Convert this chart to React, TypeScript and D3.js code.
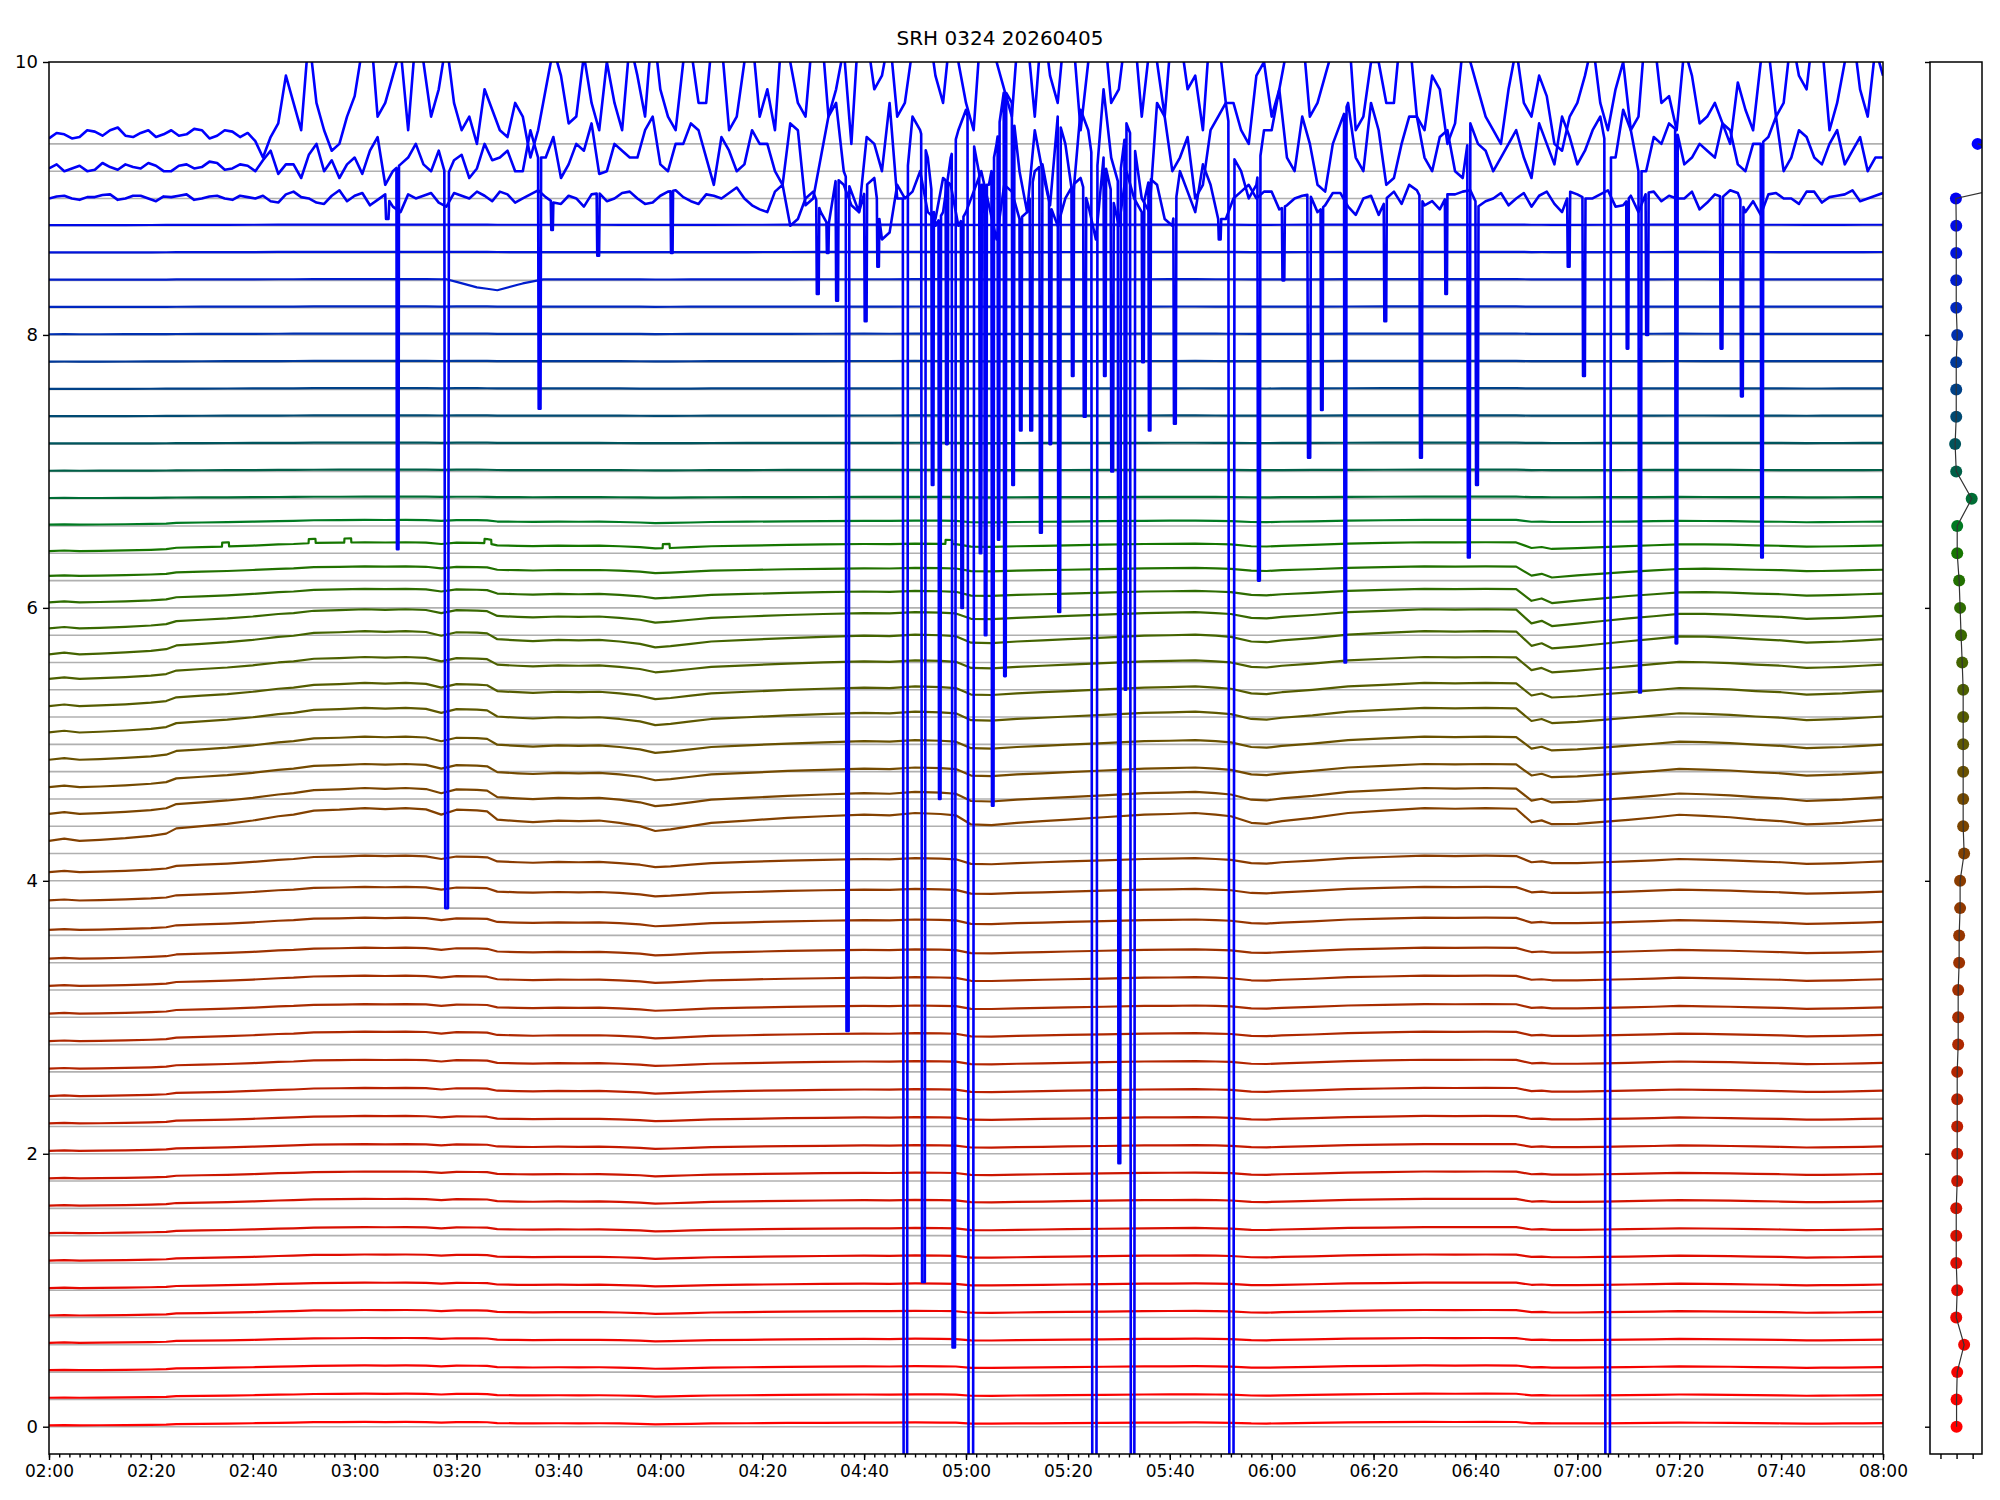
import * as d3 from "d3";
import { useEffect, useRef } from "react";

const WIDTH = 2000;
const HEIGHT = 1500;
const TITLE = "SRH 0324 20260405";

// channel offsets (one trace per channel)
const baselines = [
  0, 0.2, 0.4, 0.6, 0.8, 1.0, 1.2, 1.4, 1.6, 1.8, 2.0, 2.2, 2.4, 2.6, 2.8, 3.0,
  3.2, 3.4, 3.6, 3.8, 4.0, 4.2, 4.4, 4.6, 4.8, 5.0, 5.2, 5.4, 5.6, 5.8, 6.0, 6.2,
  6.4, 6.6, 6.8, 7.0, 7.2, 7.4, 7.6, 7.8, 8.0, 8.2, 8.4, 8.6, 8.8, 9.0, 9.2, 9.4,
];

// level of each smooth channel at 02:00, above its offset
const levels = [
  0.01, 0.012, 0.014, 0.015, 0.015, 0.016, 0.017, 0.018, 0.02, 0.02, 0.021,
  0.022, 0.023, 0.024, 0.025, 0.027, 0.03, 0.03, 0.04, 0.056, 0.064, 0.093,
  0.09, 0.086, 0.087, 0.087, 0.08, 0.08, 0.06, 0.05, 0.04, 0.034, 0.016, 0.01,
  0.005, 0.005, 0.005, 0.005, 0.005, 0.005, 0.005, 0.005, 0.005, 0.005, 0.005,
  0, 0, 0,
];

// how strongly each channel follows the common slow drift
const amps = [
  0.025, 0.03, 0.035, 0.035, 0.04, 0.04, 0.045, 0.045, 0.05, 0.05, 0.05, 0.055,
  0.06, 0.065, 0.07, 0.07, 0.075, 0.08, 0.09, 0.1, 0.12, 0.24, 0.19, 0.17, 0.17,
  0.18, 0.17, 0.16, 0.17, 0.14, 0.1, 0.07, 0.065, 0.035, 0.01, 0.008, 0.006,
  0.006, 0.005, 0.005, 0.005, 0.004, 0.004, 0.004, 0.004, 0, 0, 0,
];

// size of the 06:50 drop per channel
const dropAmps = [
  0, 0, 0, 0, 0, 0, 0, 0, 0, 0, 0, 0, 0, 0, 0, 0, 0, 0, 0, 0, 0, 0.01, 0.02,
  0.02, 0.025, 0.03, 0.03, 0.04, 0.05, 0.06, 0.06, 0.05, 0.02, 0, 0, 0, 0, 0, 0,
  0, 0, 0, 0, 0, 0, 0, 0, 0,
];

// common slow drift (minutes after 02:00)
const driftT = [
  0, 3, 6, 10, 15, 20, 23, 25, 30, 35, 40, 45, 48, 52, 57, 62, 66, 70, 74, 77,
  80, 84, 86, 88, 92, 95, 100, 104, 108, 112, 116, 119, 122, 126, 130, 137, 145,
  152, 160, 165, 170, 175, 178, 181, 185, 190, 195, 200, 207, 215, 220, 225, 229,
  232, 236, 239, 242, 248, 255, 262, 270, 276, 282, 288, 291, 293, 295, 300, 305,
  310, 315, 320, 325, 330, 335, 340, 345, 348, 352, 356, 360,
];
const driftV = [
  0, 0.07, 0, 0.03, 0.08, 0.15, 0.22, 0.38, 0.45, 0.52, 0.62, 0.75, 0.8, 0.92,
  0.95, 1.0, 0.97, 1.0, 0.96, 0.8, 0.95, 0.93, 0.9, 0.65, 0.6, 0.57, 0.62, 0.6,
  0.62, 0.55, 0.45, 0.3, 0.35, 0.45, 0.55, 0.62, 0.7, 0.75, 0.8, 0.78, 0.85,
  0.82, 0.78, 0.5, 0.48, 0.55, 0.6, 0.65, 0.72, 0.8, 0.82, 0.85, 0.8, 0.75,
  0.55, 0.52, 0.6, 0.7, 0.85, 0.92, 1.0, 0.98, 1.0, 0.98, 0.6, 0.65, 0.55, 0.55,
  0.6, 0.65, 0.72, 0.8, 0.76, 0.72, 0.65, 0.6, 0.5, 0.52, 0.55, 0.6, 0.65,
];
const dropV = [
  0, 0, 0, 0, 0, 0, 0, 0, 0, 0, 0, 0, 0, 0, 0, 0, 0, 0, 0, 0, 0, 0, 0, 0, 0, 0,
  0, 0, 0, 0, 0, 0, 0, 0, 0, 0, 0, 0, 0, 0, 0, 0, 0, 0, 0, 0, 0, 0, 0, 0, 0, 0,
  0, 0, 0, 0, 0, 0, 0, 0, 0, 0, 0, 0, -0.8, -0.6, -1.0, -0.7, -0.5, -0.3, -0.2,
  -0.1, 0, 0, 0, 0, 0, 0, 0, 0, 0,
];

// small square pulses on the 6.4 channel, and the dip on the 8.4 channel
const pulses64 = [34, 51, 58, 85.5, 120.5, 176];
const dip84T = [78, 84, 88, 93, 97];
const dip84V = [0, -0.06, -0.08, -0.03, 0];

// noisy top channels relative to offset: on the whole 3-minute marks ...
const ch90 = [
  0.0, 0.02, -0.01, 0.01, 0.03, 0.0, 0.02, -0.02, 0.01, 0.03, 0.0, 0.02, -0.01,
  0.01, 0.02, -0.03, 0.05, 0.0, -0.04, 0.06, 0.02, -0.05, 0.03, -0.1, 0.0, 0.04,
  -0.06, 0.02, 0.05, -0.02, 0.03, 0.0, 0.06, -0.03, 0.02, -0.06, 0.04, 0.0, 0.05,
  -0.04, 0.02, 0.06, -0.02, 0.03, 0.0, 0.08, -0.05, -0.1, 0.1, -0.15, 0.05, -0.2,
  0.1, -0.1, 0.15, -0.25, 0.0, 0.2, -0.15, 0.1, -0.1, 0.2, -0.3, 0.05, -0.1,
  0.25, -0.2, 0.1, -0.05, 0.3, -0.2, 0.0, 0.15, -0.15, 0.2, -0.1, 0.1, -0.15,
  0.05, 0.0, 0.05, -0.05, 0.02, -0.1, 0.04, -0.06, 0.0, -0.12, 0.05, 0.1, -0.05,
  -0.08, 0.03, 0.06, -0.02, 0.04, 0.0, -0.06, 0.05, -0.1, 0.03, 0.0, 0.06, -0.05,
  -0.1, 0.05, 0.02, 0.0, -0.08, 0.03, 0.06, -0.1, -0.12, 0.04, 0.0, 0.05, -0.03,
  0.02, 0.06, 0.0, 0.04,
];
const ch92 = [
  0.02, 0.0, 0.04, 0.01, 0.03, 0.05, 0.02, 0.04, 0.0, 0.05, 0.03, 0.06, 0.02,
  0.04, 0.08, -0.02, 0.05, 0.12, 0.0, -0.05, 0.1, 0.15, -0.1, 0.05, 0.2, 0.0,
  -0.05, 0.12, 0.02, 0.08, 0.15, 0.0, 0.1, 0.25, 0.05, 0.15, -0.02, 0.2, 0.1, 0.3,
  0.05, 0.2, 0.35, 0.1, 0.25, 0.0, 0.3, 0.2, -0.1, 0.3, -0.2, 0.4, 0.0, -0.3, 0.2,
  0.5, -0.2, 0.3, -0.4, 0.1, 0.45, -0.1, 0.2, 0.5, -0.3, 0.0, 0.4, -0.2, 0.3, 0.6,
  -0.1, 0.2, -0.3, 0.4, 0.1, -0.2, 0.3, 0.5, 0.0, -0.1, 0.3, 0.1, 0.4, -0.1, 0.2,
  0.5, 0.0, 0.3, -0.05, 0.4, 0.1, 0.25, 0.0, 0.35, 0.15, 0.1, 0.3, -0.05, 0.2,
  0.4, 0.05, 0.3, 0.1, 0.45, 0.0, 0.25, 0.35, 0.05, 0.2, 0.1, 0.3, 0.0, 0.2, 0.4,
  0.1, 0.25, 0.05, 0.3, 0.15, 0.0, 0.1,
];
const ch94 = [
  0.04, 0.07, 0.05, 0.09, 0.1, 0.06, 0.08, 0.05, 0.1, 0.07, 0.1, 0.06, 0.09, 0.08,
  -0.1, 0.15, 0.3, 0.8, 0.1, 0.0, 0.35, 0.9, 0.3, 0.7, 0.8, 0.2, 0.75, 0.1, 0.0,
  0.25, 0.05, 0.2, 0.1, 0.7, 0.15, 0.65, 0.1, 0.3, 0.75, 0.2, 0.4, 0.1, 0.7, 0.3,
  0.75, 0.2, 0.8, 0.4, 0.9, 0.3, 0.85, 0.2, 0.7, 0.9, 0.4, 0.8, 0.3, 0.9, 0.5,
  0.85, 0.3, 0.9, 0.6, 0.2, 0.8, 0.95, 0.3, 0.8, 0.6, 0.9, 0.4, 0.85, 0.7, 0.2,
  0.8, 0.5, 0.9, 0.3, 0.1, 0.5, 0.2, 0.7, 0.85, 0.3, 0.7, 0.9, 0.2, 0.6, 0.3, 0.8,
  0.1, 0.4, 0.15, 0.6, 0.2, 0.0, 0.7, 0.2, 0.35, -0.05, 0.3, 0.75, 0.1, 0.6, 0.2,
  0.8, 0.35, 0.7, 0.15, 0.3, 0.0, 0.25, 0.6, 0.2, 0.8, 0.4, 0.75, 0.3, 0.85, 0.2,
  0.5,
];
// ... and half-way between them (1.5, 4.5, ... minutes)
const ch90Mid = [
  0.015, 0.0, 0.01, 0.025, -0.01, 0.02, 0.0, 0.015, 0.02, -0.01, 0.015, 0.0,
  0.02, 0.0, -0.02, 0.03, 0.01, -0.03, 0.02, -0.02, 0.04, -0.01, -0.06, 0.03,
  0.02, -0.03, 0.04, 0.0, 0.02, 0.05, -0.03, 0.03, 0.01, -0.04, 0.0, 0.03, -0.02,
  0.04, 0.0, -0.03, 0.05, 0.01, -0.04, 0.02, 0.04, 0.0, -0.08, 0.05, -0.2, 0.0,
  -0.1, 0.15, -0.05, 0.1, -0.3, 0.1, 0.05, -0.1, 0.15, -0.2, 0.05, -0.05, 0.1,
  -0.15, 0.2, -0.05, 0.0, 0.15, -0.3, 0.05, 0.2, -0.1, 0.1, -0.2, 0.05, 0.25,
  -0.15, 0.0, 0.1, 0.05, -0.08, 0.0, 0.03, -0.05, 0.04, -0.12, 0.02, 0.0, -0.04,
  0.06, -0.02, 0.03, 0.05, -0.06, 0.0, -0.05, 0.04, 0.02, -0.04, 0.05, 0.0, 0.03,
  -0.06, 0.02, 0.04, -0.02, 0.0, 0.05, -0.03, 0.01, 0.04, -0.02, 0.03, 0.0,
  -0.04, 0.05, 0.01, 0.03, -0.02, 0.02,
];
const ch92Mid = [
  0.05, 0.02, 0.0, 0.06, 0.01, 0.03, 0.06, 0.0, 0.04, 0.02, 0.07, 0.01, 0.05,
  0.0, 0.15, 0.05, -0.05, 0.2, 0.08, 0.05, -0.02, 0.25, 0.0, 0.1, 0.05, 0.15,
  0.08, -0.05, 0.2, 0.1, 0.0, 0.3, 0.1, -0.05, 0.2, 0.35, 0.0, 0.15, 0.1, 0.4,
  0.0, 0.2, 0.3, -0.1, 0.15, 0.05, 0.2, 0.0, 0.35, -0.25, 0.1, 0.5, -0.15, 0.25,
  0.0, -0.2, 0.4, 0.1, -0.3, 0.3, 0.2, -0.1, 0.6, 0.0, 0.3, -0.25, 0.2, 0.45,
  -0.1, 0.1, 0.35, -0.2, 0.5, 0.0, 0.25, -0.1, 0.4, 0.1, -0.2, 0.3, 0.6, 0.0,
  0.2, -0.15, 0.35, 0.1, 0.5, -0.1, 0.2, 0.4, 0.0, 0.3, -0.05, 0.2, 0.0, 0.2,
  0.1, 0.35, 0.05, 0.25, 0.15, 0.4, 0.1, 0.3, 0.0, 0.2, 0.3, 0.1, 0.15, 0.35,
  0.05, 0.2, 0.25, 0.0, 0.3, 0.1, 0.2, 0.05, 0.25, 0.1,
];
const ch94Mid = [
  0.08, 0.04, 0.1, 0.06, 0.12, 0.05, 0.1, 0.07, 0.06, 0.11, 0.04, 0.1, 0.05,
  0.02, 0.05, 0.5, 0.1, 0.3, -0.05, 0.2, 0.7, 0.2, 0.5, 0.1, 0.6, 0.4, 0.3, 0.2,
  0.4, 0.1, 0.3, -0.1, 0.4, 0.5, 0.2, 0.3, 0.6, 0.1, 0.5, 0.9, 0.2, 0.6, 0.3,
  0.9, 0.1, 0.6, 0.2, 0.1, 0.6, 0.2, 0.9, 0.4, 0.0, 0.8, 0.5, 0.2, 0.7, 0.9,
  0.3, 0.6, 0.1, 0.8, 0.4, 0.95, 0.2, 0.5, 0.9, 0.1, 0.7, 0.3, 0.85, 0.2, 0.6,
  0.9, 0.4, 0.1, 0.8, 0.3, 0.0, 0.6, 0.4, 0.9, 0.2, 0.5, 0.8, 0.1, 0.6, 0.3,
  0.9, 0.2, 0.5, 0.0, 0.7, 0.4, 0.1, 0.4, 0.3, 0.5, 0.0, 0.2, 0.5, 0.3, 0.4,
  0.1, 0.9, 0.3, 0.1, 0.5, 0.2, 0.15, 0.45, 0.1, 0.7, 0.3, 0.5, 0.9, 0.1, 0.6,
  0.4, 0.7,
];
const fineTimes = d3.range(0, 360.01, 1.5);

// dropouts on the 9.2 channel: start minute, width, lowest value
const deepSpikes = [
  { t: 68.2, w: 0.5, v: 6.43 },
  { t: 77.6, w: 0.9, v: 3.8 },
  { t: 96, w: 0.6, v: 7.46 },
  { t: 156.4, w: 0.7, v: 2.9 },
  { t: 167.6, w: 1.0, v: -3 },
  { t: 171.2, w: 0.9, v: 1.06 },
  { t: 173.2, w: 0.5, v: 6.9 },
  { t: 174.6, w: 0.5, v: 4.6 },
  { t: 177.2, w: 0.8, v: 0.58 },
  { t: 180.3, w: 1.3, v: -3 },
  { t: 182.6, w: 0.5, v: 6.4 },
  { t: 183.6, w: 0.5, v: 5.8 },
  { t: 185, w: 0.5, v: 4.55 },
  { t: 186.2, w: 0.4, v: 6.5 },
  { t: 187.4, w: 0.5, v: 5.5 },
  { t: 189, w: 0.5, v: 6.9 },
  { t: 198, w: 0.6, v: 5.97 },
  { t: 204.6, w: 1.2, v: -3 },
  { t: 209.8, w: 0.6, v: 1.93 },
  { t: 211.1, w: 0.4, v: 5.4 },
  { t: 212.2, w: 1.0, v: -3 },
  { t: 231.5, w: 1.2, v: -3 },
  { t: 237.2, w: 0.6, v: 6.2 },
  { t: 254.2, w: 0.5, v: 5.6 },
  { t: 278.4, w: 0.6, v: 6.37 },
  { t: 305.3, w: 1.3, v: -3 },
  { t: 312, w: 0.6, v: 5.38 },
  { t: 319.2, w: 0.5, v: 5.74 },
  { t: 336, w: 0.5, v: 6.37 },
];

// shallower dips on the 9.0 channel
const midDips = [
  { t: 66, w: 0.8, v: 8.85 },
  { t: 98.5, w: 0.5, v: 8.77 },
  { t: 107.5, w: 0.6, v: 8.58 },
  { t: 122, w: 0.5, v: 8.6 },
  { t: 150.6, w: 0.6, v: 8.3 },
  { t: 152.6, w: 0.5, v: 8.6 },
  { t: 154.4, w: 0.6, v: 8.25 },
  { t: 160, w: 0.6, v: 8.1 },
  { t: 162.5, w: 0.5, v: 8.5 },
  { t: 176, w: 0.5, v: 7.2 },
  { t: 179, w: 0.5, v: 6.0 },
  { t: 190.5, w: 0.5, v: 7.3 },
  { t: 192.5, w: 0.6, v: 7.3 },
  { t: 194.4, w: 0.6, v: 6.55 },
  { t: 196.3, w: 0.5, v: 7.2 },
  { t: 200.7, w: 0.5, v: 7.7 },
  { t: 203, w: 0.6, v: 7.4 },
  { t: 207, w: 0.5, v: 7.7 },
  { t: 208.4, w: 0.6, v: 7.0 },
  { t: 214.5, w: 0.5, v: 7.8 },
  { t: 215.8, w: 0.5, v: 7.3 },
  { t: 220.7, w: 0.6, v: 7.35 },
  { t: 229.5, w: 0.6, v: 8.7 },
  { t: 242, w: 0.6, v: 8.4 },
  { t: 247, w: 0.7, v: 7.1 },
  { t: 249.6, w: 0.5, v: 7.45 },
  { t: 262, w: 0.6, v: 8.1 },
  { t: 269, w: 0.6, v: 7.1 },
  { t: 274, w: 0.5, v: 8.3 },
  { t: 280, w: 0.6, v: 6.9 },
  { t: 298, w: 0.6, v: 8.5 },
  { t: 301, w: 0.6, v: 7.7 },
  { t: 309.6, w: 0.5, v: 7.9 },
  { t: 313.4, w: 0.6, v: 8.0 },
  { t: 328, w: 0.6, v: 7.9 },
  { t: 332, w: 0.6, v: 7.55 },
];

// per-channel value shown in the side panel
const sideValues = [
  0.0, 0.0, 0.04, 0.47, -0.02, 0.04, -0.02, -0.02, -0.02, 0.04, 0.04, 0.04,
  0.04, 0.04, 0.1, 0.1, 0.1, 0.16, 0.16, 0.22, 0.22, 0.47, 0.41, 0.41, 0.41,
  0.41, 0.41, 0.41, 0.35, 0.28, 0.22, 0.16, 0.04, 0.04, 0.94, -0.02, -0.09,
  -0.02, -0.02, -0.02, 0.04, -0.02, -0.02, -0.02, -0.02, -0.04, 7.5, 1.31,
];

const xTicks = d3.range(0, 361, 20);
const xMinorTicks = d3.range(0, 361, 2);
const yTicks = [0, 2, 4, 6, 8, 10];

const colorStopV = [0, 1, 2, 3, 4, 4.6, 5, 5.6, 6, 6.4, 6.6, 7, 7.4, 8, 8.6, 9, 9.4];
const colorStopC = [
  "#ff0000", "#e60800", "#c41a00", "#a82c00", "#8a3c00", "#744a00", "#5e5800",
  "#446400", "#2e6c00", "#167600", "#007a22", "#006048", "#004a72", "#0030b0",
  "#0014dc", "#0000f0", "#0000ff",
];

function interp(ts: number[], vs: number[], t: number) {
  const i = d3.bisectRight(ts, t);
  if (i <= 0) return vs[0];
  if (i >= ts.length) return vs[vs.length - 1];
  const a = ts[i - 1];
  const b = ts[i];
  return vs[i - 1] + ((vs[i] - vs[i - 1]) * (t - a)) / (b - a);
}

function hhmm(m: number) {
  const h = 2 + Math.floor(m / 60);
  const mm = m % 60;
  return `${String(h).padStart(2, "0")}:${String(mm).padStart(2, "0")}`;
}

// whole-mark and half-mark samples merged into one series
function fineSeries(whole: number[], mid: number[]) {
  const out: number[] = [];
  whole.forEach((v, i) => {
    out.push(v);
    if (i < mid.length) out.push(mid[i]);
  });
  return out;
}

function tracePoints(k: number): [number, number][] {
  const base = baselines[k];
  if (k >= 45) {
    const offs =
      k === 45
        ? fineSeries(ch90, ch90Mid)
        : k === 46
          ? fineSeries(ch92, ch92Mid)
          : fineSeries(ch94, ch94Mid);
    const ts = fineTimes.slice(0, offs.length);
    const spikes = k === 45 ? midDips : k === 46 ? deepSpikes : [];
    const pts: [number, number][] = ts
      .map((t, i) => [t, base + offs[i]] as [number, number])
      .filter(([t]) => !spikes.some((s) => t > s.t && t < s.t + s.w));
    spikes.forEach((s) => {
      const b0 = base + interp(ts, offs, s.t);
      const b1 = base + interp(ts, offs, s.t + s.w);
      pts.push(
        [s.t, b0],
        [s.t + s.w * 0.2, s.v],
        [s.t + s.w * 0.8, s.v],
        [s.t + s.w, b1],
      );
    });
    return pts.sort((a, b) => a[0] - b[0]);
  }
  const extra: number[] = [];
  if (k === 32) pulses64.forEach((p) => extra.push(p - 0.05, p, p + 1.3, p + 1.35));
  if (k === 42) extra.push(...dip84T);
  const ts = Array.from(new Set([...driftT, ...extra])).sort((a, b) => a - b);
  return ts.map((t) => {
    let v =
      base +
      levels[k] +
      amps[k] * interp(driftT, driftV, t) +
      dropAmps[k] * interp(driftT, dropV, t);
    if (k === 32 && pulses64.some((p) => t >= p && t <= p + 1.3)) v += 0.03;
    if (k === 42) v += interp(dip84T, dip84V, t);
    return [t, v] as [number, number];
  });
}

export default function App() {
  const svgRef = useRef<SVGSVGElement>(null);

  useEffect(() => {
    if (!svgRef.current) return;
    const svg = d3.select(svgRef.current);
    svg.selectAll("*").remove();

    const plot = { left: 49, right: 1883, top: 62, bottom: 1454 };
    const side = { left: 1930, right: 1982 };

    const x = d3.scaleLinear().domain([0, 360]).range([plot.left, plot.right]);
    const y = d3.scaleLinear().domain([-0.2, 10]).range([plot.bottom, plot.top]);
    const sx = d3.scaleLinear().domain([-1.65, 1.58]).range([side.left, side.right]);
    const color = d3
      .scaleLinear<string>()
      .domain(colorStopV)
      .range(colorStopC)
      .interpolate(d3.interpolateRgb);

    const defs = svg.append("defs");
    defs
      .append("clipPath")
      .attr("id", "main-clip")
      .append("rect")
      .attr("x", plot.left)
      .attr("y", plot.top)
      .attr("width", plot.right - plot.left)
      .attr("height", plot.bottom - plot.top);
    defs
      .append("clipPath")
      .attr("id", "side-clip")
      .append("rect")
      .attr("x", side.left)
      .attr("y", plot.top)
      .attr("width", side.right - side.left)
      .attr("height", plot.bottom - plot.top);

    // title
    svg
      .append("text")
      .attr("x", 1000)
      .attr("y", 45)
      .attr("text-anchor", "middle")
      .style("font-size", "20px")
      .style("fill", "#000")
      .text(TITLE);

    const main = svg.append("g").attr("clip-path", "url(#main-clip)");

    // grid lines at each channel offset
    main
      .selectAll(".grid")
      .data(baselines)
      .enter()
      .append("line")
      .attr("x1", plot.left)
      .attr("x2", plot.right)
      .attr("y1", (d) => y(d))
      .attr("y2", (d) => y(d))
      .style("stroke", "#b0b0b0")
      .style("stroke-width", 1.6);

    const line = d3
      .line<[number, number]>()
      .x((d) => x(d[0]))
      .y((d) => y(d[1]));

    baselines.forEach((b, k) => {
      main
        .append("path")
        .attr("d", line(tracePoints(k)) ?? "")
        .style("fill", "none")
        .style("stroke", color(b))
        .style("stroke-width", k >= 45 ? 2.6 : 2.2)
        .style("stroke-linejoin", "round");
    });

    // frame
    svg
      .append("rect")
      .attr("x", plot.left)
      .attr("y", plot.top)
      .attr("width", plot.right - plot.left)
      .attr("height", plot.bottom - plot.top)
      .style("fill", "none")
      .style("stroke", "#000")
      .style("stroke-width", 1.5);

    // axes
    const styleAxis = (g: d3.Selection<SVGGElement, unknown, null, undefined>) => {
      g.select(".domain").remove();
      g.selectAll(".tick line").style("stroke", "#000").style("stroke-width", 1.4);
      g.selectAll("text")
        .style("font-size", "17px")
        .style("font-family", "DejaVu Sans")
        .style("fill", "#000");
    };

    svg
      .append("g")
      .attr("transform", `translate(0,${plot.bottom})`)
      .call(
        d3
          .axisBottom(x)
          .tickValues(xMinorTicks)
          .tickSize(3.5)
          .tickFormat(() => ""),
      )
      .call(styleAxis);

    svg
      .append("g")
      .attr("transform", `translate(0,${plot.bottom})`)
      .call(
        d3
          .axisBottom(x)
          .tickValues(xTicks)
          .tickSize(6)
          .tickPadding(5)
          .tickFormat((d) => hhmm(+d)),
      )
      .call(styleAxis);

    svg
      .append("g")
      .attr("transform", `translate(${plot.left},0)`)
      .call(d3.axisLeft(y).tickValues(yTicks).tickSize(6).tickPadding(5))
      .call(styleAxis)
      .selectAll("text")
      .style("font-size", "18px");

    // side panel
    const sideG = svg.append("g").attr("clip-path", "url(#side-clip)");
    const sidePts = baselines.map((b, k) => [sideValues[k], b] as [number, number]);

    sideG
      .selectAll(".dot")
      .data(sidePts)
      .enter()
      .append("circle")
      .attr("cx", (d) => sx(d[0]))
      .attr("cy", (d) => y(d[1]))
      .attr("r", 6)
      .style("fill", (d) => color(d[1]));

    sideG
      .append("path")
      .attr(
        "d",
        d3
          .line<[number, number]>()
          .x((d) => sx(d[0]))
          .y((d) => y(d[1]))(sidePts) ?? "",
      )
      .style("fill", "none")
      .style("stroke", "#333")
      .style("stroke-width", 1.2);

    svg
      .append("rect")
      .attr("x", side.left)
      .attr("y", plot.top)
      .attr("width", side.right - side.left)
      .attr("height", plot.bottom - plot.top)
      .style("fill", "none")
      .style("stroke", "#000")
      .style("stroke-width", 1.5);

    svg
      .append("g")
      .attr("transform", `translate(${side.left},0)`)
      .call(d3.axisLeft(y).tickValues(yTicks).tickSize(5).tickFormat(() => ""))
      .call(styleAxis);

    svg
      .append("g")
      .attr("transform", `translate(0,${plot.bottom})`)
      .call(
        d3
          .axisBottom(sx)
          .tickValues([-1, 0, 1])
          .tickSize(5)
          .tickFormat(() => ""),
      )
      .call(styleAxis);
  }, []);

  return (
    <svg
      ref={svgRef}
      width={WIDTH}
      height={HEIGHT}
      style={{
        position: "absolute",
        left: 0,
        top: 0,
        background: "#fff",
        fontFamily: "DejaVu Sans",
      }}
    />
  );
}
